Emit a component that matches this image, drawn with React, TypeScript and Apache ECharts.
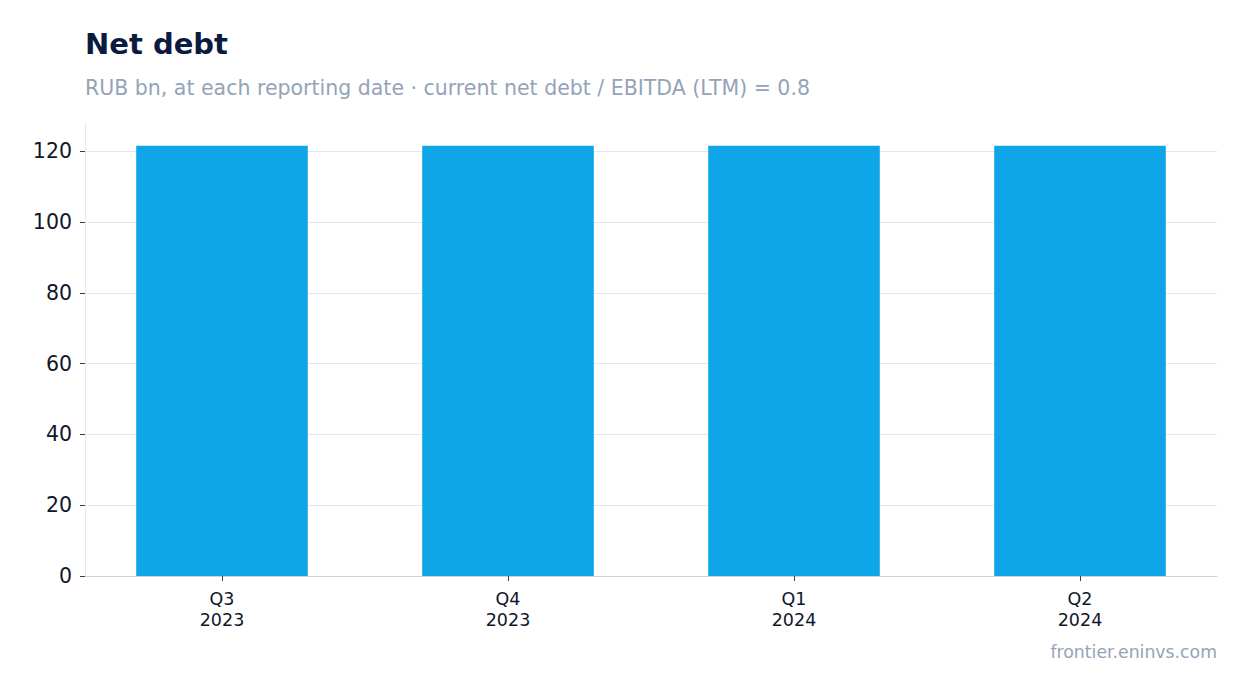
import React, { useEffect, useRef } from "react";
import * as echarts from "echarts";

// Chart data
const quarters = ["Q3\n2023", "Q4\n2023", "Q1\n2024", "Q2\n2024"];
const netDebt = [121.6, 121.6, 121.6, 121.6];
const yTicks = [0, 20, 40, 60, 80, 100, 120];

const FONT = "DejaVu Sans, sans-serif";
const Y_MAX = 128;

const App: React.FC = () => {
  const chartRef = useRef<HTMLDivElement>(null);

  useEffect(() => {
    document.body.style.margin = "0";
    if (!chartRef.current) return;
    const chart = echarts.init(chartRef.current, undefined, { renderer: "svg" });

    chart.setOption({
      animation: false,
      textStyle: { fontFamily: FONT },
      graphic: [
        {
          type: "text",
          x: 85,
          y: 44,
          style: {
            text: "Net debt",
            font: `bold 29px ${FONT}`,
            fill: "#0b1a3e",
            verticalAlign: "middle",
          },
        },
        {
          type: "text",
          x: 85,
          y: 88,
          style: {
            text: "RUB bn, at each reporting date · current net debt / EBITDA (LTM) = 0.8",
            font: `20.5px ${FONT}`,
            fill: "#94a3b8",
            verticalAlign: "middle",
          },
        },
        {
          type: "text",
          x: 1217,
          y: 652,
          style: {
            text: "frontier.eninvs.com",
            font: `17.3px ${FONT}`,
            fill: "#94a3b8",
            align: "right",
            verticalAlign: "middle",
          },
        },
      ],
      // grid 0 holds the frame (y axis, gridlines, x axis line); grid 1 holds the bars
      grid: [
        { left: 85, right: 30, top: 123, bottom: 117 },
        { left: 79, right: 24, top: 123, bottom: 117 },
      ],
      xAxis: [
        {
          gridIndex: 0,
          type: "category",
          data: quarters,
          axisLine: { lineStyle: { color: "#cbd5e1", width: 1 } },
          axisTick: { show: false },
          axisLabel: { show: false },
        },
        {
          gridIndex: 1,
          type: "category",
          data: quarters,
          axisLine: { show: false },
          axisTick: { show: true, alignWithLabel: true, length: 5, lineStyle: { color: "#334155" } },
          axisLabel: { fontSize: 17.5, lineHeight: 21, color: "#0f172a", margin: 12 },
        },
      ],
      yAxis: [
        {
          gridIndex: 0,
          type: "value",
          min: 0,
          max: Y_MAX,
          interval: 20,
          axisLine: { show: true, lineStyle: { color: "#e2e8f0" } },
          axisTick: { show: true, length: 5, lineStyle: { color: "#334155" } },
          axisLabel: {
            fontSize: 20.5,
            color: "#0f172a",
            margin: 13,
            showMaxLabel: false,
            formatter: (v: number) => (yTicks.includes(v) ? String(v) : ""),
          },
          splitLine: { showMaxLine: false, lineStyle: { color: "#e2e8f0" } },
        },
        {
          gridIndex: 1,
          type: "value",
          min: 0,
          max: Y_MAX,
          interval: 20,
          show: false,
        },
      ],
      series: [
        {
          type: "bar",
          xAxisIndex: 1,
          yAxisIndex: 1,
          data: netDebt,
          barWidth: "60%",
          itemStyle: { color: "#0ea5e9" },
        },
      ],
    });

    return () => {
      chart.dispose();
    };
  }, []);

  return <div ref={chartRef} style={{ width: "1247px", height: "693px" }} />;
};

export default App;
